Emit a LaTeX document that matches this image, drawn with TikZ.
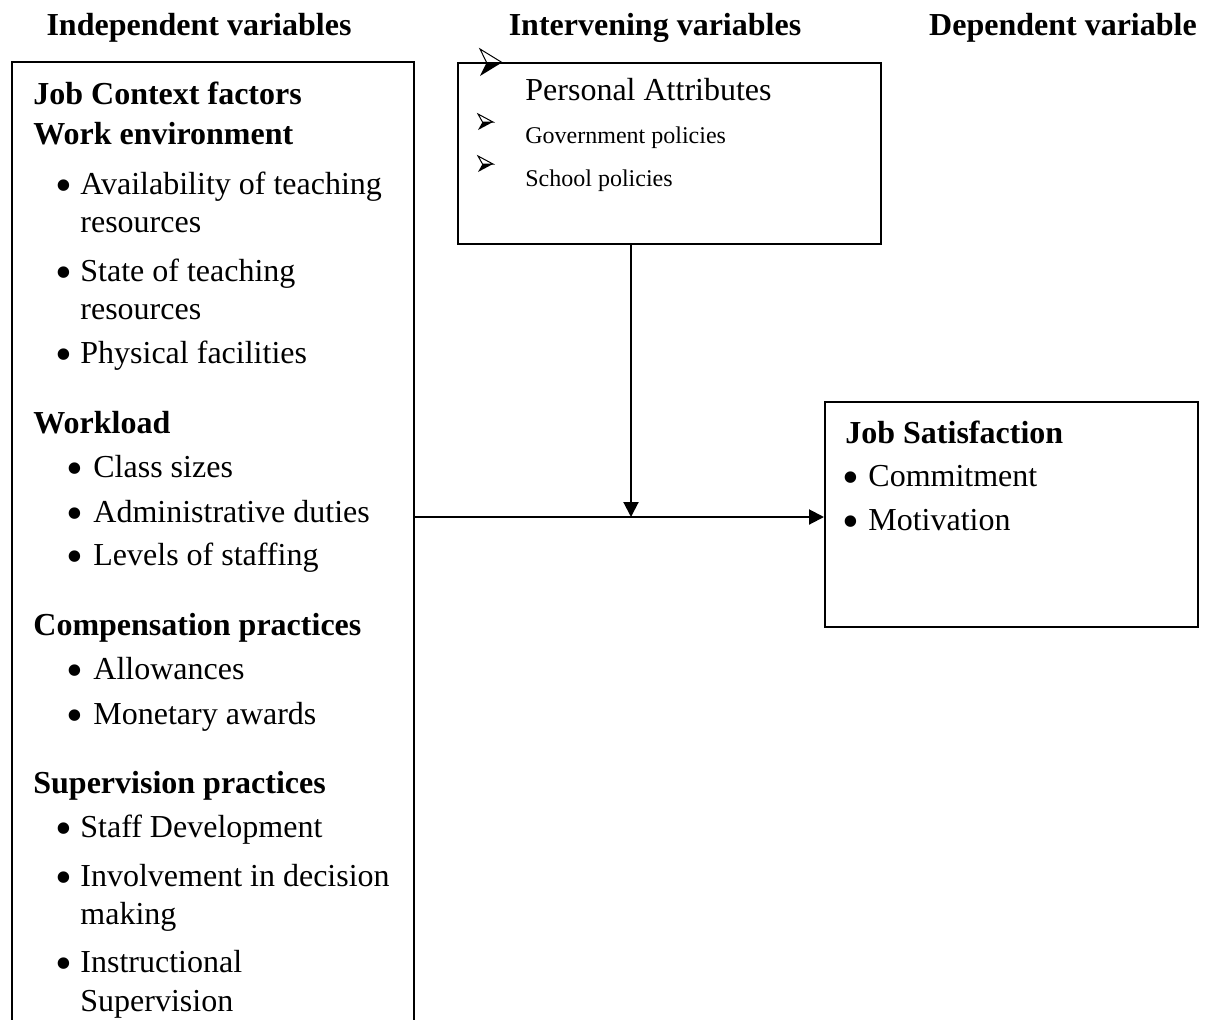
\documentclass[tikz,border=0pt]{standalone}
\usepackage{fontspec}
\setmainfont{Liberation Serif}
\usetikzlibrary{arrows.meta}
\newcommand\arrbul[4]{%
  \begin{scope}[shift={(#1,#2)}, xscale=#3, yscale=#4]
    \draw[line width=0.5pt, line join=miter] (0,0) -- (1,0.5) -- (0.3,0.5) -- cycle;
    \fill (0.3,0.5) -- (1,0.5) -- (0,1) -- cycle;
  \end{scope}}
\newcommand\bigbul{\raisebox{-3.7pt}{\textbullet}}
\begin{document}
\begin{tikzpicture}[x=0.5pt,y=-0.5pt,
  txt/.style={anchor=base west, inner sep=0pt, font=\fontsize{16}{19}\selectfont},
  hd/.style={txt, font=\fontsize{16}{19}\selectfont\bfseries},
  small/.style={anchor=base west, inner sep=0pt, font=\fontsize{12}{14}\selectfont},
  bul/.style={anchor=base west, inner sep=0pt, font=\fontsize{24}{26}\selectfont},
  frame/.style={line width=1pt},
  arr/.style={line width=1pt, -{Triangle[length=7.5pt,width=7.5pt]}}]
\useasboundingbox (0,0) rectangle (1206,1019);
% headers
\node[hd, anchor=base] (h1) at (199,35) {Independent variables};
\node[hd, anchor=base] (h2) at (655,35) {Intervening variables};
\node[hd, anchor=base] (h3) at (1063,35) {Dependent variable};
% boxes
\node[minimum width=200.5pt, minimum height=478.5pt, anchor=north west, inner sep=0pt] (indep) at (12,62) {};
\draw[frame] (indep.south west) -- (indep.north west) -- (indep.north east) -- (indep.south east);
\node[frame, draw, minimum width=211.5pt, minimum height=90.5pt, anchor=north west, inner sep=0pt] (inter) at (457,62) {};
\node[frame, draw, minimum width=186.5pt, minimum height=112.5pt, anchor=north west, inner sep=0pt] (dep) at (824,401) {};
% connectors
\coordinate (j) at (631,517);
\draw[arr] (j |- inter.south) -- (j);
\draw[arr] (indep.east |- j) -- (dep.west |- j);
% intervening text
\arrbul{480}{49}{22}{27}
\node[txt] (pa) at (525,100) {Personal Attributes};
\arrbul{478}{114}{15}{16}
\node[small] (gp) at (525,143) {Government policies};
\arrbul{478}{156}{15}{16}
\node[small] (sp) at (525,186) {School policies};
% dependent text
\node[hd] (js) at (845,443) {Job Satisfaction};
\node[bul] (c0) at (842,486) {\smash{\bigbul}};
\node[txt] (c1) at (868,486) {Commitment};
\node[bul] (c3) at (842,530) {\smash{\bigbul}};
\node[txt] (c2) at (868,530) {Motivation};
% independent text
\node[hd] (t1) at (33,104) {Job Context factors};
\node[hd] (t2) at (33,144) {Work environment};
\node[bul] (b1) at (55,194) {\smash{\bigbul}};
\node[txt] (t3) at (80,194) {Availability of teaching};
\node[txt] (t4) at (80,232) {resources};
\node[bul] (b2) at (55,281) {\smash{\bigbul}};
\node[txt] (t5) at (80,281) {State of teaching};
\node[txt] (t6) at (80,319) {resources};
\node[bul] (b3) at (55,363) {\smash{\bigbul}};
\node[txt] (t7) at (80,363) {Physical facilities};
\node[hd] (t8) at (33,433) {Workload};
\node[bul] (b4) at (66,477) {\smash{\bigbul}};
\node[txt] (t9) at (93,477) {Class sizes};
\node[bul] (b5) at (66,522) {\smash{\bigbul}};
\node[txt] (t10) at (93,522) {Administrative duties};
\node[bul] (b6) at (66,565) {\smash{\bigbul}};
\node[txt] (t11) at (93,565) {Levels of staffing};
\node[hd] (t12) at (33,635) {Compensation practices};
\node[bul] (b7) at (66,679) {\smash{\bigbul}};
\node[txt] (t13) at (93,679) {Allowances};
\node[bul] (b8) at (66,724) {\smash{\bigbul}};
\node[txt] (t14) at (93,724) {Monetary awards};
\node[hd] (t15) at (33,793) {Supervision practices};
\node[bul] (b9) at (55,837) {\smash{\bigbul}};
\node[txt] (t16) at (80,837) {Staff Development};
\node[bul] (b10) at (55,886) {\smash{\bigbul}};
\node[txt] (t17) at (80,886) {Involvement in decision};
\node[txt] (t18) at (80,924) {making};
\node[bul] (b11) at (55,972) {\smash{\bigbul}};
\node[txt] (t19) at (80,972) {Instructional};
\node[txt] (t20) at (80,1011) {Supervision};
\end{tikzpicture}
\end{document}
